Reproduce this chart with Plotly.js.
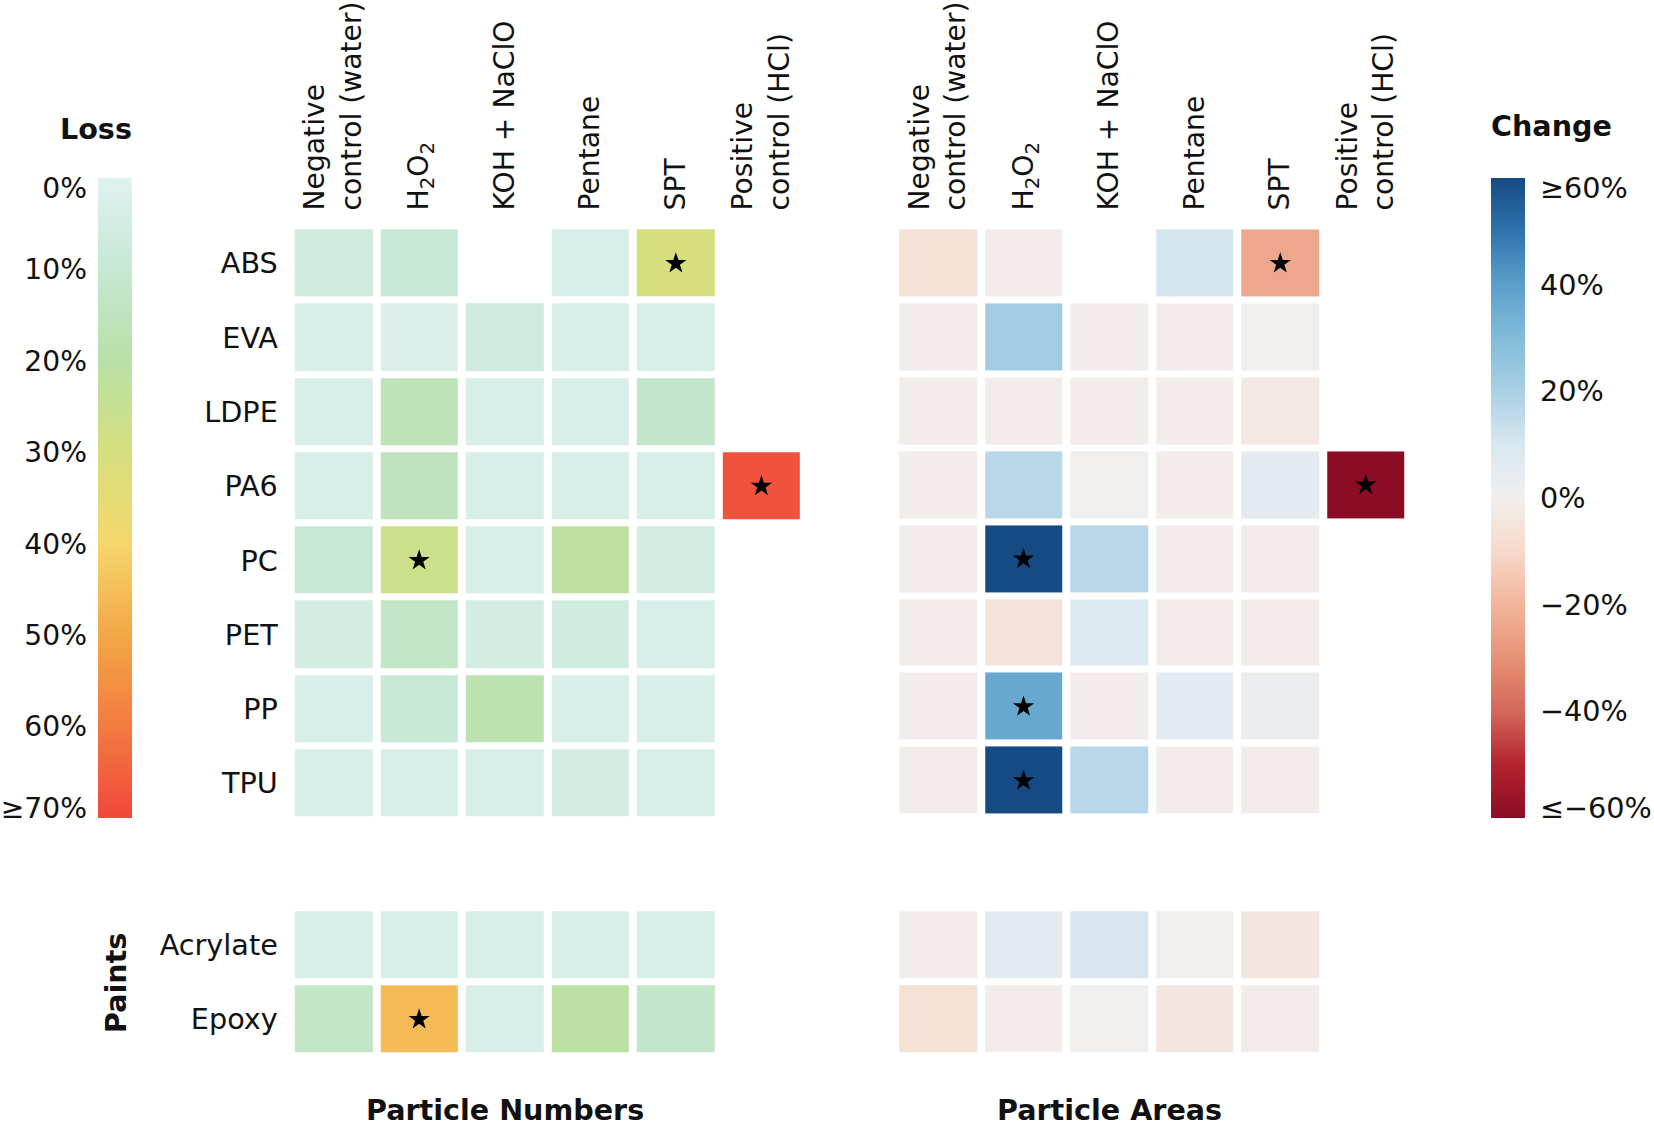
<!DOCTYPE html>
<html>
<head>
<meta charset="utf-8">
<script src="https://cdn.plot.ly/plotly-3.0.1.min.js"></script>
<style>
  html, body { margin: 0; padding: 0; background: #fff; }
  #chart { width: 1654px; height: 1125px; }
</style>
</head>
<body>
<div id="chart"></div>
<script>
// ---------------- data ----------------
const treatments = ['Negative control (water)', 'H2O2', 'KOH + NaClO', 'Pentane', 'SPT', 'Positive control (HCl)'];
const treatmentLabels = ['Negative<br>control (water)', 'H<sub>2</sub>O<sub>2</sub>', 'KOH + NaClO', 'Pentane', 'SPT', 'Positive<br>control (HCl)'];
const polymers = ['ABS', 'EVA', 'LDPE', 'PA6', 'PC', 'PET', 'PP', 'TPU'];
const paints = ['Acrylate', 'Epoxy'];

// Particle number loss (%), columns follow `treatments`
const lossPolymers = [
  [7, 9, null, 3, 30, null],   // ABS
  [3, 2, 7, 3, 3, null],       // EVA
  [3, 16, 3, 3, 12, null],     // LDPE
  [3, 15, 3, 3, 3, 68],        // PA6
  [10, 27, 3, 22, 5, null],    // PC
  [5, 13, 5, 6, 3, null],      // PET
  [3, 9, 18, 3, 3, null],      // PP
  [3, 3, 3, 5, 3, null]        // TPU
];
const lossPaints = [
  [3, 3, 3, 3, 3, null],       // Acrylate
  [13, 46, 3, 21, 12, null]    // Epoxy
];

// Particle area change (%)
const changePolymers = [
  [-7, -1, null, 11, -24, null], // ABS
  [-1, 22, -1, -1, 0, null],     // EVA
  [-1, -1, -1, -1, -3, null],    // LDPE
  [-1, 17, 0, -1, 5, -60],       // PA6
  [-1, 60, 17, -1, -1, null],    // PC
  [-1, -6, 8, -1, -1, null],     // PET
  [-1, 37, -1, 5, 2, null],      // PP
  [-1, 60, 17, -1, -1, null]     // TPU
];
const changePaints = [
  [-1, 5, 10, 0, -4, null],      // Acrylate
  [-7, -1, 0, -4, -1, null]      // Epoxy
];

// significant cells (star): [material, treatment]
const lossSignificant = [['ABS', 'SPT'], ['PA6', 'Positive control (HCl)'], ['PC', 'H2O2'], ['Epoxy', 'H2O2']];
const changeSignificant = [['ABS', 'SPT'], ['PA6', 'Positive control (HCl)'], ['PC', 'H2O2'], ['PP', 'H2O2'], ['TPU', 'H2O2']];

const lossRange = [0, 70];
const changeRange = [-60, 60];
const lossTickVals = [0, 10, 20, 30, 40, 50, 60, 70];
const lossTickText = ['0%', '10%', '20%', '30%', '40%', '50%', '60%', '≥70%'];
const changeTickVals = [60, 40, 20, 0, -20, -40, -60];
const changeTickText = ['≥60%', '40%', '20%', '0%', '−20%', '−40%', '≤−60%'];

// ---------------- styling ----------------
const W = 1654, H = 1125;
const fx = p => p / W;
const fy = p => 1 - p / H;
const FONT = 'DejaVu Sans, sans-serif';
const TXT = '#111111';
const TICK_SIZE = 28.7;
const TITLE_SIZE = 28.6;

const lossScale = [
  [0, '#e0f1f1'], [0.143, '#c6e8d4'], [0.286, '#b8e0a6'], [0.429, '#d5df7e'],
  [0.571, '#f5d66c'], [0.714, '#f3a746'], [0.857, '#f37b40'], [1, '#f0483c']
];
// same scale, flipped so that the colour bar runs 0% (top) to 70% (bottom)
const lossScaleFlipped = lossScale.map(s => [1 - s[0], s[1]]).reverse();
const changeScale = [
  [0, '#8b0d25'], [0.083, '#b3232f'], [0.167, '#d3675a'], [0.25, '#e69275'],
  [0.333, '#f2b59b'], [0.417, '#f7d9ca'], [0.5, '#f1efee'], [0.583, '#d8e7f0'],
  [0.667, '#aad0e4'], [0.75, '#82bcdb'], [0.833, '#5d9fca'], [0.917, '#2f73af'], [1, '#154a82']
];

const CB_TOP = 178, CB_BOT = 818;
function cbar(xLeft) {
  return {
    x: fx(xLeft), xanchor: 'left', y: fy(CB_TOP), yanchor: 'top',
    len: (CB_BOT - CB_TOP) / H, lenmode: 'fraction',
    thickness: 34, thicknessmode: 'pixels', xpad: 0, ypad: 0,
    outlinewidth: 0, showticklabels: false, ticks: ''
  };
}

function heat(z, rows, xa, ya, scale, range, cb) {
  return {
    type: 'heatmap', z: z, x: treatments, y: rows, xaxis: xa, yaxis: ya,
    colorscale: scale, zmin: range[0], zmax: range[1], zauto: false,
    xgap: 8, ygap: 7, hoverinfo: 'skip',
    showscale: !!cb, colorbar: cb || undefined
  };
}

function stars(list, rows, xa, ya) {
  const pts = list.filter(s => rows.includes(s[0]));
  return {
    type: 'scatter', mode: 'markers', xaxis: xa, yaxis: ya,
    x: pts.map(s => s[1]), y: pts.map(s => s[0]),
    marker: { symbol: 'star', size: 16, color: '#000000', line: { width: 0 } },
    hoverinfo: 'skip', showlegend: false
  };
}

// nudge end labels of colorbar scales inward (as in the original figure)
function nudged(vals, lo, hi) {
  const per = (hi - lo) / (CB_BOT - CB_TOP);
  return vals.map(v => v === lo ? v + 10 * per : (v === hi ? v - 10 * per : v));
}

const data = [
  heat(lossPolymers, polymers, 'x', 'y', lossScale, lossRange, null),
  heat(lossPaints, paints, 'x', 'y2', lossScale, lossRange, null),
  heat(changePolymers, polymers, 'x2', 'y3', changeScale, changeRange, cbar(1490.5)),
  heat(changePaints, paints, 'x2', 'y4', changeScale, changeRange, null),
  stars(lossSignificant, polymers, 'x', 'y'),
  stars(lossSignificant, paints, 'x', 'y2'),
  stars(changeSignificant, polymers, 'x2', 'y3'),
  stars(changeSignificant, paints, 'x2', 'y4'),
  // colour-bar carrier for the Loss scale: a single cell kept outside its (hidden) x range,
  // only its colour bar (0% at top, 70% at bottom) is visible
  { type: 'heatmap', z: [[-lossRange[1]]], x: [0], y: [0], xaxis: 'x3', yaxis: 'y5',
    colorscale: lossScaleFlipped, zmin: -lossRange[1], zmax: -lossRange[0], zauto: false,
    showscale: true, colorbar: cbar(98), hoverinfo: 'skip' },
  { type: 'scatter', x: [], y: [], xaxis: 'x4', yaxis: 'y6', showlegend: false, hoverinfo: 'skip' }
];

const tickFont = { family: FONT, size: TICK_SIZE, color: TXT };
function topX(domain, anchor) {
  return {
    domain: domain, anchor: anchor, side: 'top', type: 'category',
    categoryorder: 'array', categoryarray: treatments,
    tickvals: treatments, ticktext: treatmentLabels, tickangle: -90,
    ticks: '', showgrid: false, zeroline: false, showline: false,
    ticklabelstandoff: 12, tickfont: { family: FONT, size: 28.2, color: TXT }, fixedrange: true
  };
}
function rowY(domain, anchor, rows, showLabels) {
  return {
    domain: domain, anchor: anchor, type: 'category',
    categoryorder: 'array', categoryarray: rows, autorange: 'reversed',
    ticks: '', showgrid: false, zeroline: false, showline: false,
    showticklabels: showLabels, ticklabelstandoff: 12, tickfont: tickFont, fixedrange: true
  };
}

const mainDom = [fy(820.5), fy(223.5)];
const paintDom = [fy(1056.5), fy(908.2)];
const titleFont = { family: FONT, size: TITLE_SIZE, color: TXT };

const layout = {
  width: W, height: H,
  margin: { l: 0, r: 0, t: 0, b: 0, pad: 0 },
  paper_bgcolor: '#ffffff', plot_bgcolor: 'rgba(0,0,0,0)',
  showlegend: false,
  font: { family: FONT, color: TXT },
  xaxis: topX([fx(290.8), fx(804.2)], 'y'),
  yaxis: rowY(mainDom, 'x', polymers, true),
  yaxis2: rowY(paintDom, 'x', paints, true),
  xaxis2: topX([fx(895.2), fx(1408.6)], 'y3'),
  yaxis3: rowY(mainDom, 'x2', polymers, false),
  yaxis4: rowY(paintDom, 'x2', paints, false),
  xaxis3: { domain: [fx(98), fx(132)], anchor: 'y5', visible: false, range: [5, 6], fixedrange: true },
  yaxis5: {
    domain: [fy(CB_BOT), fy(CB_TOP)], anchor: 'x3', side: 'left', range: [lossRange[1], lossRange[0]],
    tickmode: 'array', tickvals: nudged(lossTickVals, lossRange[0], lossRange[1]), ticktext: lossTickText,
    ticks: '', showgrid: false, zeroline: false, showline: false,
    ticklabelstandoff: 10, tickfont: { family: FONT, size: 28.2, color: TXT }, fixedrange: true
  },
  xaxis4: { domain: [fx(1490.5), fx(1525)], anchor: 'y6', visible: false, range: [0, 1], fixedrange: true },
  yaxis6: {
    domain: [fy(CB_BOT), fy(CB_TOP)], anchor: 'x4', side: 'right', range: changeRange,
    tickmode: 'array', tickvals: nudged(changeTickVals, changeRange[0], changeRange[1]), ticktext: changeTickText,
    ticks: '', showgrid: false, zeroline: false, showline: false,
    ticklabelstandoff: 14, tickfont: tickFont, fixedrange: true
  },
  annotations: [
    { text: '<b>Loss</b>', x: fx(95.5), y: fy(129), xref: 'paper', yref: 'paper', showarrow: false,
      xanchor: 'center', yanchor: 'middle', font: titleFont },
    { text: '<b>Change</b>', x: fx(1551), y: fy(126), xref: 'paper', yref: 'paper', showarrow: false,
      xanchor: 'center', yanchor: 'middle', font: titleFont },
    { text: '<b>Paints</b>', x: fx(116), y: fy(983), xref: 'paper', yref: 'paper', showarrow: false,
      textangle: -90, xanchor: 'center', yanchor: 'middle', font: titleFont },
    { text: '<b>Particle Numbers</b>', x: fx(504.5), y: fy(1109.5), xref: 'paper', yref: 'paper', showarrow: false,
      xanchor: 'center', yanchor: 'middle', font: titleFont },
    { text: '<b>Particle Areas</b>', x: fx(1109), y: fy(1109.5), xref: 'paper', yref: 'paper', showarrow: false,
      xanchor: 'center', yanchor: 'middle', font: titleFont }
  ]
};

Plotly.newPlot('chart', data, layout, { staticPlot: true, displayModeBar: false });
</script>
</body>
</html>
